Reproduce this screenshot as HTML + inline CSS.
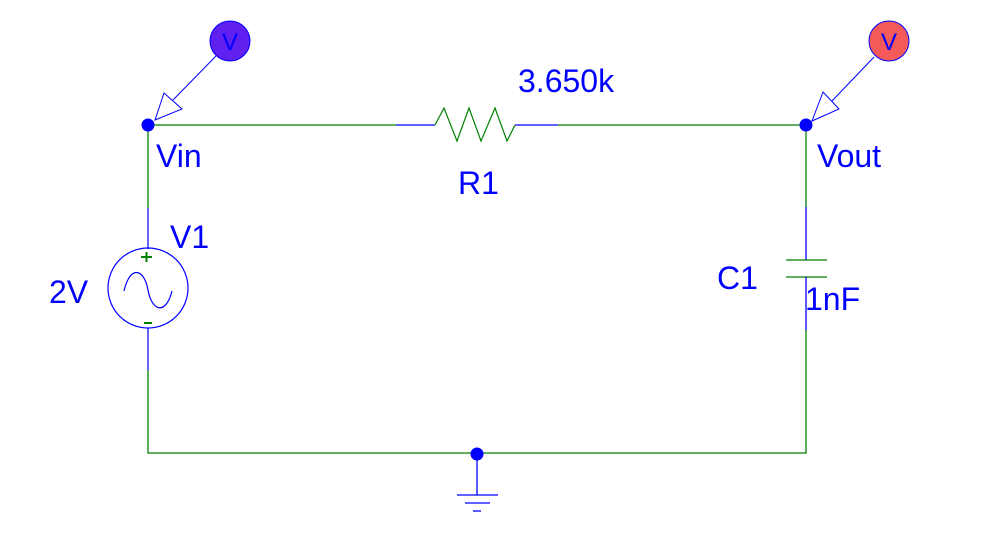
<!DOCTYPE html>
<html><head><meta charset="utf-8"><style>
html,body{margin:0;padding:0;background:#fff;}
svg{display:block;}
text{font-family:"Liberation Sans",sans-serif;fill:#0000ff;}
</style></head><body>
<svg width="997" height="543" viewBox="0 0 997 543">
<g stroke="#008000" stroke-width="1.3" fill="none">
 <path d="M148 125 H396 M558 125 H806"/>
 <path d="M148 125 V208 M148 370 V453 H806 V330 M806 125 V207"/>
</g>
<g>
 <path d="M396 125 H435 M515 125 H558" stroke="#0000ff" stroke-width="1.3" fill="none"/>
 <polyline points="435,125 444,108 457,141 469,108 481,141 495,108 507,141 515,125" stroke="#008000" stroke-width="1.2" fill="none"/>
</g>
<text x="518" y="92" font-size="32">3.650k</text>
<text x="458" y="194" font-size="32">R1</text>
<g stroke="#0000ff" stroke-width="1.3">
 <line x1="806" y1="207" x2="806" y2="260"/>
 <line x1="786" y1="260" x2="827" y2="260" stroke="#008000"/>
 <line x1="786" y1="277" x2="827" y2="277" stroke="#008000"/>
 <line x1="806" y1="277" x2="806" y2="330"/>
</g>
<text x="717" y="289" font-size="32">C1</text>
<text x="805" y="310" font-size="32">1nF</text>
<g fill="none" stroke="#0000ff" stroke-width="1.2">
 <line x1="148" y1="208" x2="148" y2="249"/>
 <circle cx="148" cy="288" r="40"/>
 <line x1="148" y1="328" x2="148" y2="370"/>
 <path d="M124 291 C130 265 144 268 148 290 C152 312 166 315 172 291"/>
 <path d="M141 257 H152 M146.5 252 V262 M144 323 H152" stroke="#008000" stroke-width="2"/>
</g>
<text x="170" y="248" font-size="32">V1</text>
<text x="49" y="303" font-size="32">2V</text>
<g stroke="#0000ff" stroke-width="1.3">
 <line x1="477" y1="454" x2="477" y2="495"/>
 <line x1="457" y1="495" x2="498" y2="495"/>
 <line x1="465" y1="503" x2="490" y2="503"/>
 <line x1="473" y1="511" x2="481" y2="511"/>
</g>
<g fill="#0000ff">
 <circle cx="148" cy="125" r="6.5"/>
 <circle cx="806" cy="125" r="6.5"/>
 <circle cx="477" cy="454" r="6.5"/>
</g>
<text x="156" y="167" font-size="32">Vin</text>
<text x="817" y="167" font-size="32">Vout</text>
<g>
 <line x1="216" y1="56" x2="173" y2="100" stroke="#0000ff" stroke-width="1"/>
 <polygon points="164,93 182,109 155,120" fill="#fff" stroke="#0000ff" stroke-width="1"/>
 <circle cx="230" cy="41" r="20" fill="#6020f0" stroke="#0000ff" stroke-width="1"/>
 <text x="230" y="50" font-size="24" text-anchor="middle">V</text>
</g>
<g>
 <line x1="874" y1="57" x2="832" y2="101" stroke="#0000ff" stroke-width="1"/>
 <polygon points="823,92 839,109 812,121" fill="#fff" stroke="#0000ff" stroke-width="1"/>
 <circle cx="889" cy="41" r="20" fill="#f55a5a" stroke="#0000ff" stroke-width="1"/>
 <text x="889" y="50" font-size="24" text-anchor="middle">V</text>
</g>
</svg>
</body></html>
